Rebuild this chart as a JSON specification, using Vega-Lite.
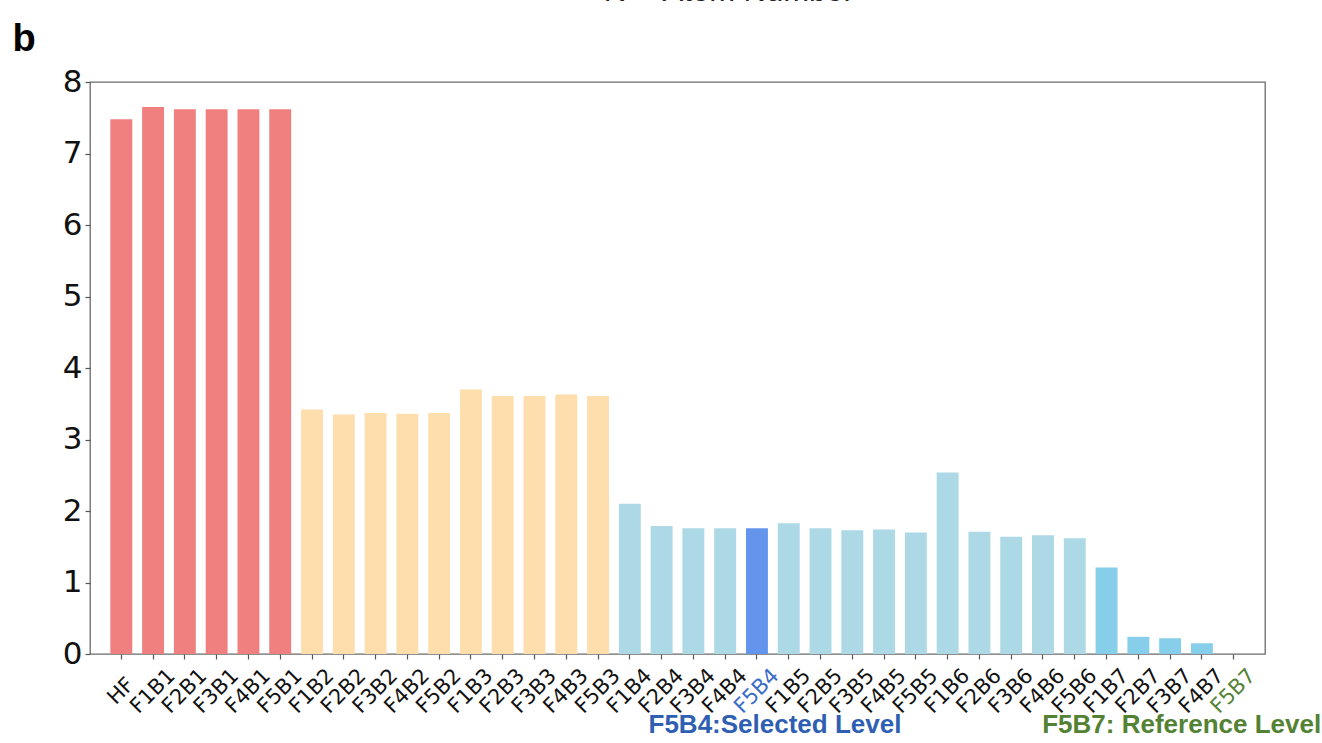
{
  "$schema": "https://vega.github.io/schema/vega-lite/v6.json",
  "autosize": {"type": "none"},
  "padding": {"left": 90, "top": 82, "right": 57, "bottom": 89},
  "width": 1175,
  "height": 572,
  "background": "white",
  "title": {
    "text": "𝑁 = Atom Number",
    "orient": "top",
    "anchor": "start",
    "frame": "group",
    "dx": 516,
    "dy": 27,
    "offset": 15,
    "baseline": "alphabetic",
    "font": "Liberation Sans",
    "fontSize": 31,
    "fontWeight": "normal",
    "color": "#222"
  },
  "config": {
    "view": {"stroke": "#6b6b6b", "strokeWidth": 1.3},
    "axis": {
      "grid": false,
      "domain": false,
      "tickColor": "#555",
      "tickSize": 5,
      "tickWidth": 1.2,
      "labelFont": "DejaVu Sans",
      "labelColor": "#111"
    }
  },
  "layer": [
    {
      "data": {
        "values": [
          {"name": "HF", "basis": "B1", "value": 7.48},
          {"name": "F1B1", "basis": "B1", "value": 7.65},
          {"name": "F2B1", "basis": "B1", "value": 7.62},
          {"name": "F3B1", "basis": "B1", "value": 7.62},
          {"name": "F4B1", "basis": "B1", "value": 7.62},
          {"name": "F5B1", "basis": "B1", "value": 7.62},
          {"name": "F1B2", "basis": "B2", "value": 3.42},
          {"name": "F2B2", "basis": "B2", "value": 3.35},
          {"name": "F3B2", "basis": "B2", "value": 3.37},
          {"name": "F4B2", "basis": "B2", "value": 3.36},
          {"name": "F5B2", "basis": "B2", "value": 3.37},
          {"name": "F1B3", "basis": "B3", "value": 3.70},
          {"name": "F2B3", "basis": "B3", "value": 3.61},
          {"name": "F3B3", "basis": "B3", "value": 3.61},
          {"name": "F4B3", "basis": "B3", "value": 3.63},
          {"name": "F5B3", "basis": "B3", "value": 3.61},
          {"name": "F1B4", "basis": "B4", "value": 2.10},
          {"name": "F2B4", "basis": "B4", "value": 1.79},
          {"name": "F3B4", "basis": "B4", "value": 1.76},
          {"name": "F4B4", "basis": "B4", "value": 1.76},
          {"name": "F5B4", "basis": "B4", "value": 1.76},
          {"name": "F1B5", "basis": "B5", "value": 1.83},
          {"name": "F2B5", "basis": "B5", "value": 1.76},
          {"name": "F3B5", "basis": "B5", "value": 1.73},
          {"name": "F4B5", "basis": "B5", "value": 1.74},
          {"name": "F5B5", "basis": "B5", "value": 1.70},
          {"name": "F1B6", "basis": "B6", "value": 2.54},
          {"name": "F2B6", "basis": "B6", "value": 1.71},
          {"name": "F3B6", "basis": "B6", "value": 1.64},
          {"name": "F4B6", "basis": "B6", "value": 1.66},
          {"name": "F5B6", "basis": "B6", "value": 1.62},
          {"name": "F1B7", "basis": "B7", "value": 1.21},
          {"name": "F2B7", "basis": "B7", "value": 0.24},
          {"name": "F3B7", "basis": "B7", "value": 0.22},
          {"name": "F4B7", "basis": "B7", "value": 0.15},
          {"name": "F5B7", "basis": "B7", "value": 0}
        ]
      },
      "mark": {"type": "bar"},
      "encoding": {
        "x": {
          "field": "name",
          "type": "nominal",
          "sort": null,
          "scale": {"paddingInner": 0.31, "paddingOuter": 0.64},
          "axis": {
            "title": null,
            "labelAngle": -45,
            "labelAlign": "center",
            "labelBaseline": "middle",
            "labelPadding": 32,
            "labelFontSize": 21,
            "labelColor": {"expr": "datum.value === 'F5B4' ? '#3a6bc9' : datum.value === 'F5B7' ? '#548235' : '#111'"}
          }
        },
        "y": {
          "field": "value",
          "type": "quantitative",
          "scale": {"domain": [0, 8], "nice": false},
          "axis": {
            "values": [0, 1, 2, 3, 4, 5, 6, 7, 8],
            "format": "d",
            "labelFontSize": 31,
            "labelPadding": 3,
            "title": "b",
            "titleAngle": 0,
            "titleAlign": "left",
            "titleBaseline": "alphabetic",
            "titleX": -78,
            "titleY": -32,
            "titleFont": "Liberation Sans",
            "titleFontSize": 38,
            "titleFontWeight": "bold",
            "titleColor": "#000"
          }
        },
        "color": {
          "condition": {"test": "datum.name === 'F5B4'", "value": "#6495ED"},
          "field": "basis",
          "type": "nominal",
          "scale": {
            "domain": ["B1", "B2", "B3", "B4", "B5", "B6", "B7"],
            "range": ["#F08080", "#FFDEAD", "#FFDEAD", "#ADD8E6", "#ADD8E6", "#ADD8E6", "#87CEEB"]
          },
          "legend": null
        }
      }
    },
    {
      "data": {"values": [{"name": "F5B4", "note": "F5B4:Selected Level"}]},
      "mark": {
        "type": "text",
        "align": "center",
        "baseline": "alphabetic",
        "dx": 18,
        "font": "Liberation Sans",
        "fontSize": 26,
        "fontWeight": "bold",
        "color": "#2f5fb3"
      },
      "encoding": {
        "x": {"field": "name", "type": "nominal", "sort": null},
        "y": {"datum": -1.1},
        "text": {"field": "note"}
      }
    },
    {
      "data": {"values": [{"name": "F5B7", "note": "F5B7: Reference Level"}]},
      "mark": {
        "type": "text",
        "align": "center",
        "baseline": "alphabetic",
        "dx": -52,
        "font": "Liberation Sans",
        "fontSize": 26,
        "fontWeight": "bold",
        "color": "#548235"
      },
      "encoding": {
        "x": {"field": "name", "type": "nominal", "sort": null},
        "y": {"datum": -1.1},
        "text": {"field": "note"}
      }
    }
  ]
}
